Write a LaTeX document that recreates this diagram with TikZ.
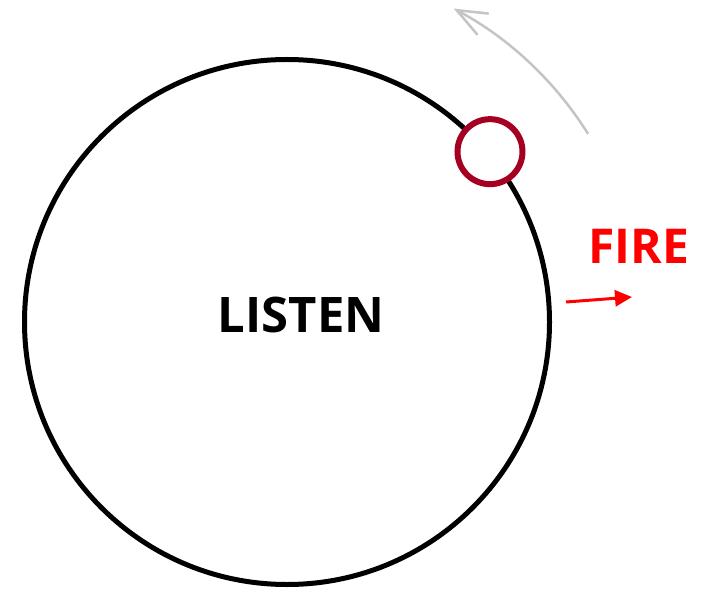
\documentclass[tikz,border=0pt]{standalone}
\usepackage{fontspec}
\setmainfont{Open Sans}
\usetikzlibrary{arrows.meta}
\definecolor{Ring} {HTML}{A50021}
\definecolor{Fire} {HTML}{FF0000}
\definecolor{Track}{HTML}{C4C4C4}

\begin{document}
\begin{tikzpicture}[x=1pt, y=1pt]
  \useasboundingbox (0,0) rectangle (704,590);
  % main loop
  \node[draw, circle, line width=5pt, minimum size=525pt, inner sep=0pt]
        (loop) at (287,268) {};
  \node[font=\fontsize{49}{52}\selectfont\bfseries] (listen) at (301,275) {LISTEN};
  % marker riding on the loop
  \node[draw=Ring, fill=white, circle, line width=6pt, minimum size=65pt,
        inner sep=0pt] (marker) at (loop.40) {};
  % direction of travel
  \draw[Track, line width=2.5pt, -{Straight Barb[length=30pt, width=24pt]}]
        ([shift={(32:355)}]loop.center) arc[start angle=32, end angle=62, radius=355];
  % fire output
  \node[font=\fontsize{48}{50}\selectfont\bfseries, text=Fire] (fire) at (639,344) {FIRE};
  \coordinate (fireStart) at (566,288);
  \coordinate (fireEnd)   at (632,293);
  \draw[Fire, line width=3pt, -{Triangle[length=17pt, width=16pt]}] (fireStart) -- (fireEnd);
\end{tikzpicture}
\end{document}
